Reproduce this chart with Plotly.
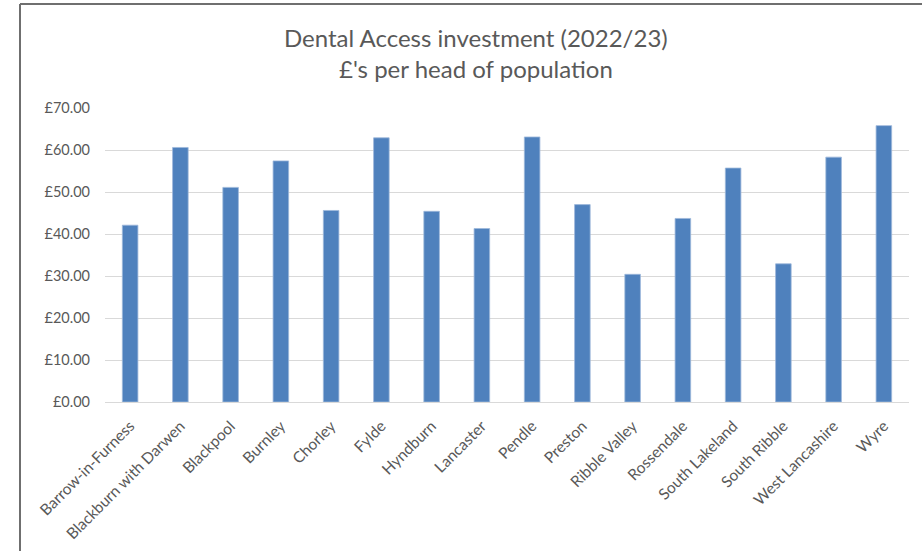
import plotly.graph_objects as go

categories = ["Barrow-in-Furness", "Blackburn with Darwen", "Blackpool", "Burnley",
              "Chorley", "Fylde", "Hyndburn", "Lancaster", "Pendle", "Preston",
              "Ribble Valley", "Rossendale", "South Lakeland", "South Ribble",
              "West Lancashire", "Wyre"]
values = [42.1, 60.6, 51.1, 57.4, 45.6, 62.9, 45.4, 41.3, 63.1, 47.0,
          30.4, 43.7, 55.7, 32.9, 58.3, 65.8]
y_ticks = [0, 10, 20, 30, 40, 50, 60, 70]
y_tick_labels = ["£0.00", "£10.00", "£20.00", "£30.00", "£40.00", "£50.00",
                 "£60.00", "£70.00"]
title_lines = ["Dental Access investment (2022/23)", "£'s per head of population"]

FONT = "Lato, 'Open Sans', sans-serif"
GREY = "#595959"

fig = go.Figure()
fig.add_trace(go.Bar(
    x=categories, y=values,
    marker=dict(color="#4f81bd", line=dict(color="#9db7db", width=0.8)),
    width=0.31,
))

W, H = 922, 551
ml, mr, mt, mb = 105, 13, 108, 149
pw, ph = W - ml - mr, H - mt - mb

def px_x(x):
    return (x - ml) / pw

def px_y(y):
    return (H - mb - y) / ph

fig.update_layout(
    width=W, height=H,
    margin=dict(l=ml, r=mr, t=mt, b=mb, autoexpand=False),
    paper_bgcolor="white", plot_bgcolor="white",
    showlegend=False,
    font=dict(family=FONT, color=GREY, size=14),
    xaxis=dict(
        tickangle=-45, showgrid=False, showline=True, linecolor="#d9d9d9",
        linewidth=1, ticks="", tickfont=dict(size=15.5, color=GREY),
        ticklabelstandoff=8,
        range=[-0.5, len(categories) - 0.5], automargin=False,
    ),
    yaxis=dict(
        range=[0, 70], tickvals=y_ticks, ticktext=y_tick_labels,
        showgrid=True, gridcolor="#d9d9d9", gridwidth=1, zeroline=False,
        showline=False, ticks="", ticklabelstandoff=14, automargin=False,
        tickfont=dict(size=14.5, color=GREY),
    ),
)

fig.add_annotation(text=title_lines[0], xref="paper", yref="paper",
                   x=px_x(476), y=px_y(37), showarrow=False,
                   xanchor="center", yanchor="middle",
                   font=dict(size=24, color=GREY, family=FONT))
fig.add_annotation(text=title_lines[1], xref="paper", yref="paper",
                   x=px_x(476), y=px_y(68), showarrow=False,
                   xanchor="center", yanchor="middle",
                   font=dict(size=24, color=GREY, family=FONT))

# outer chart frame (top and left visible)
fig.add_shape(type="line", xref="paper", yref="paper",
              x0=px_x(20), x1=px_x(930), y0=px_y(4), y1=px_y(4),
              line=dict(color="#6f6f6f", width=2))
fig.add_shape(type="line", xref="paper", yref="paper",
              x0=px_x(20), x1=px_x(20), y0=px_y(4), y1=px_y(560),
              line=dict(color="#6f6f6f", width=2))

fig.write_html("out.html",
               config={"displayModeBar": False},
               post_script="document.body.style.margin='0';")
